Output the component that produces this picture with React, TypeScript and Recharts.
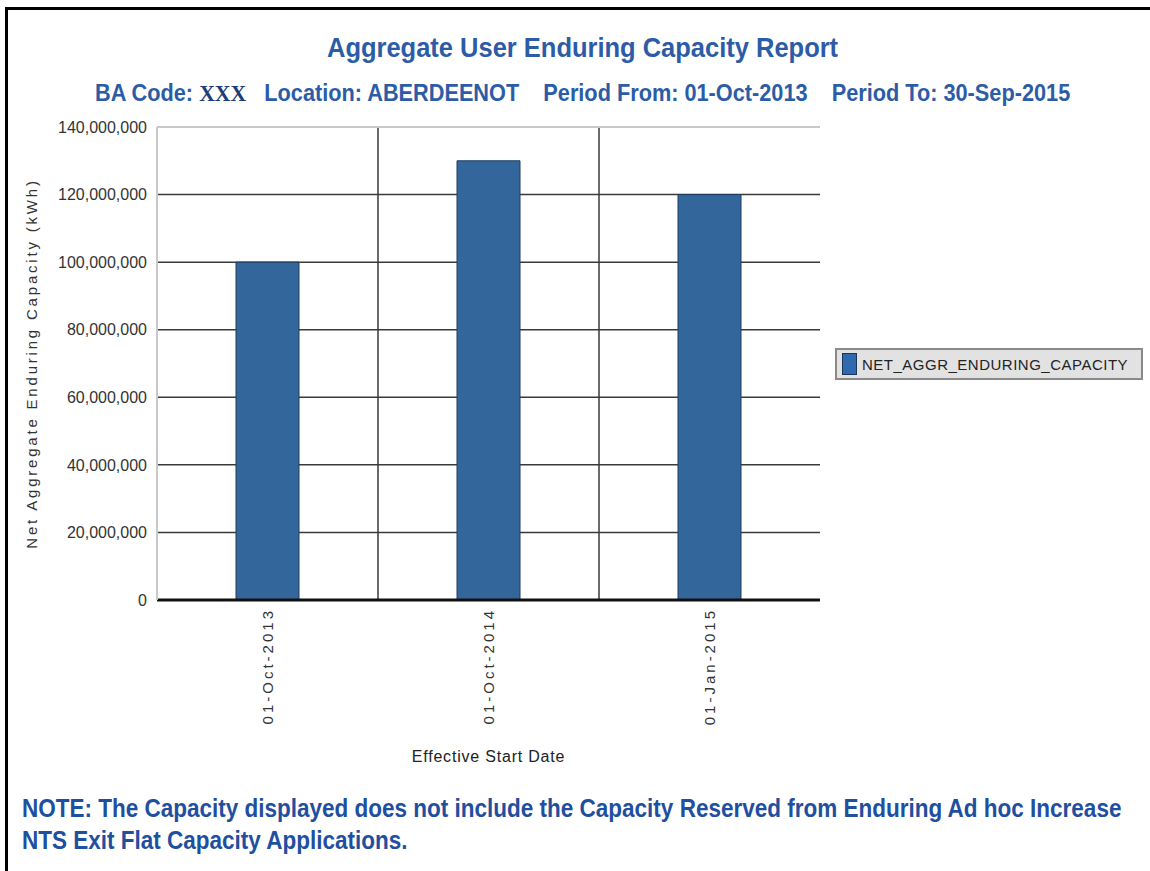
import React from "react"
import {
  BarChart,
  Bar,
  XAxis,
  YAxis,
  CartesianGrid,
  Legend,
  ReferenceLine,
  Label,
} from "recharts"

const dates = ["01-Oct-2013", "01-Oct-2014", "01-Jan-2015"]
const capacity = [100000000, 130000000, 120000000]
const yTicks = [0, 20000000, 40000000, 60000000, 80000000, 100000000, 120000000, 140000000]

const data = dates.map((d, i) => ({ date: d, NET_AGGR_ENDURING_CAPACITY: capacity[i] }))

const SANS = '"Liberation Sans", Arial, sans-serif'
const BLUE = "#2d5ca6"

function DateTick(props: any) {
  const { x, y, payload } = props
  return (
    <text
      x={x}
      y={y}
      transform={`rotate(-90 ${x} ${y})`}
      textAnchor="end"
      dy="0.35em"
      fontSize={15}
      letterSpacing={3}
      fontFamily={SANS}
      fill="#333"
    >
      {payload.value}
    </text>
  )
}

function LegendBox(props: any) {
  const { payload } = props
  return (
    <div>
      {(payload || []).map((p: any) => (
        <div
          key={p.value}
          style={{
            display: "flex",
            alignItems: "center",
            width: 308,
            height: 32,
            boxSizing: "border-box",
            background: "#e2e2e2",
            border: "2px solid #8a8a8a",
            padding: "0 5px",
          }}
        >
          <span
            style={{
              display: "inline-block",
              width: 13,
              height: 20,
              background: "#2f69b0",
              border: "1px solid #1b3558",
              marginRight: 5,
            }}
          />
          <span style={{ fontFamily: SANS, fontSize: 15, letterSpacing: 0.5, color: "#222" }}>
            {p.value}
          </span>
        </div>
      ))}
    </div>
  )
}

const narrowText = (scale: number): React.CSSProperties => ({
  fontFamily: SANS,
  fontWeight: "bold",
  whiteSpace: "pre",
  transform: `scaleX(${scale})`,
  transformOrigin: "left top",
})

export default function App() {
  return (
    <div
      style={{
        position: "absolute",
        left: 0,
        top: 0,
        width: 1150,
        height: 871,
        background: "#fff",
        overflow: "hidden",
      }}
    >
      <div
        style={{
          position: "absolute",
          left: 5,
          top: 7,
          right: 0,
          bottom: 0,
          borderLeft: "3px solid #000",
          borderTop: "3px solid #000",
        }}
      />
      <div
        style={{
          position: "absolute",
          left: 327,
          top: 32,
          fontSize: 28,
          color: BLUE,
          ...narrowText(0.91),
        }}
      >
        Aggregate User Enduring Capacity Report
      </div>
      <div
        style={{
          position: "absolute",
          left: 95,
          top: 80,
          fontSize: 23,
          color: BLUE,
          ...narrowText(0.944),
        }}
      >
        {"BA Code: "}
        <span style={{ fontFamily: '"Liberation Serif", serif', color: "#1d3c78" }}>XXX</span>
        {"   Location: ABERDEENOT    Period From: 01-Oct-2013    Period To: 30-Sep-2015"}
      </div>

      <div style={{ position: "absolute", left: 0, top: 0 }}>
        <BarChart
          width={1150}
          height={871}
          data={data}
          margin={{ top: 127, right: 330, bottom: 101, left: 7 }}
        >
          <CartesianGrid
            stroke="#3a3a3a"
            strokeWidth={1.5}
            verticalCoordinatesGenerator={({ offset }: any) => [
              offset.left + offset.width / 3,
              offset.left + (2 * offset.width) / 3,
            ]}
          />
          <XAxis
            dataKey="date"
            height={170}
            tickLine={false}
            tickSize={0}
            tickMargin={8}
            interval={0}
            axisLine={{ stroke: "#111", strokeWidth: 3 }}
            tick={<DateTick />}
          >
            <Label
              value="Effective Start Date"
              position="insideBottom"
              offset={8}
              style={{ fontFamily: SANS, fontSize: 16, letterSpacing: 0.8, fill: "#222" }}
            />
          </XAxis>
          <YAxis
            width={150}
            domain={[0, 140000000]}
            ticks={yTicks}
            interval={0}
            tickLine={false}
            tickSize={0}
            tickMargin={10}
            axisLine={{ stroke: "#c8c8c8", strokeWidth: 2 }}
            tickFormatter={(v: number) => v.toLocaleString("en-US")}
            tick={{ fontSize: 16, fill: "#333", fontFamily: SANS }}
          >
            <Label
              value="Net Aggregate Enduring Capacity (kWh)"
              angle={-90}
              position="insideLeft"
              offset={25}
              style={{
                textAnchor: "middle",
                fontFamily: SANS,
                fontSize: 15,
                letterSpacing: 2.8,
                fill: "#333",
              }}
            />
          </YAxis>
          <YAxis
            yAxisId="right"
            orientation="right"
            width={0}
            domain={[0, 140000000]}
            tick={false}
            tickLine={false}
            axisLine={{ stroke: "#c8c8c8", strokeWidth: 2 }}
          />
          <ReferenceLine y={140000000} stroke="#c8c8c8" strokeWidth={2} />
          <Legend
            layout="horizontal"
            verticalAlign="middle"
            align="center"
            wrapperStyle={{ left: 835, top: 348, width: 308 }}
            content={<LegendBox />}
          />
          <Bar
            dataKey="NET_AGGR_ENDURING_CAPACITY"
            fill="#33669b"
            stroke="#1e3c62"
            strokeWidth={1}
            barSize={63}
            isAnimationActive={false}
          />
        </BarChart>
      </div>

      <div
        style={{
          position: "absolute",
          left: 22,
          top: 792,
          fontSize: 25,
          lineHeight: "32px",
          color: "#1f4f9f",
          ...narrowText(0.9),
        }}
      >
        {"NOTE: The Capacity displayed does not include the Capacity Reserved from Enduring Ad hoc Increase\nNTS Exit Flat Capacity Applications."}
      </div>
    </div>
  )
}
